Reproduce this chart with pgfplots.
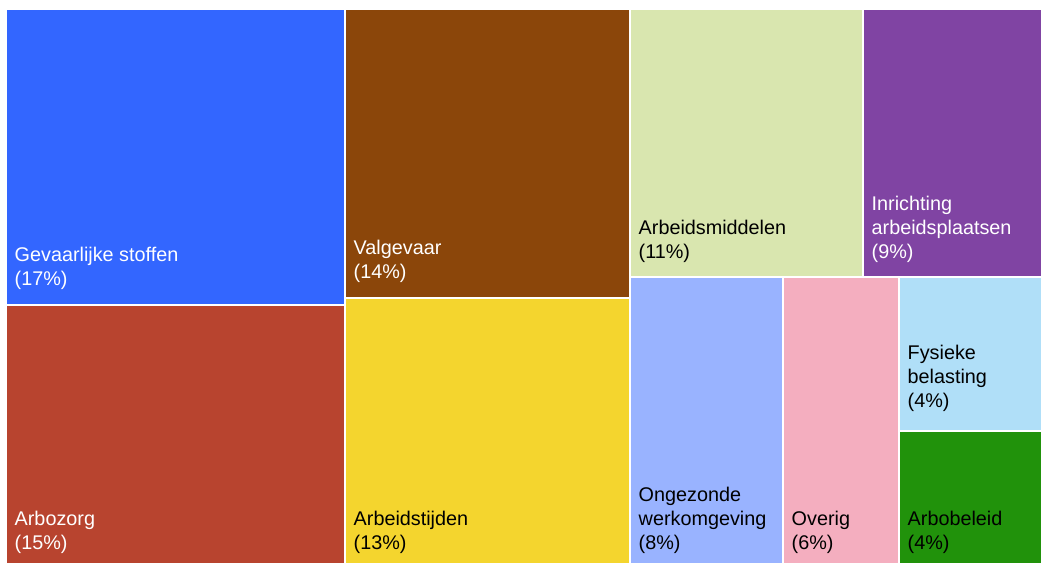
\documentclass[border=0pt]{standalone}
\usepackage{fontspec}
\setmainfont{Liberation Sans}
\usepackage{pgfplots}
\pgfplotsset{compat=1.18}
\definecolor{cBlue}{HTML}{3366FF}
\definecolor{cRed}{HTML}{B8442F}
\definecolor{cBrown}{HTML}{8B460A}
\definecolor{cYellow}{HTML}{F4D52E}
\definecolor{cLGreen}{HTML}{D9E6AF}
\definecolor{cPurple}{HTML}{8044A3}
\definecolor{cPeri}{HTML}{99B3FF}
\definecolor{cPink}{HTML}{F4AEBF}
\definecolor{cLBlue}{HTML}{B0DFF8}
\definecolor{cGreen}{HTML}{21920B}
\newcommand{\lab}[4]{% x, last baseline, color, {line1,line2,...}
  \foreach \t [count=\i] in {#4} {\xdef\nlines{\i}}%
  \foreach \t [count=\i] in {#4} {%
    \pgfmathsetmacro{\yy}{#2-24*(\nlines-\i)}%
    \edef\tmp{\noexpand\node[anchor=base west,inner sep=0pt,text=#3,font=\noexpand\fontsize{19.8}{24}\noexpand\selectfont] at (axis cs:#1+8,\yy) {\t};}%
    \tmp
  }%
}
\begin{document}
\begin{tikzpicture}
\begin{axis}[
  width=1041pt, height=562pt, scale only axis,
  xmin=0, xmax=1041, ymin=0, ymax=562,
  y dir=reverse, hide axis, clip=true,
]
% rectangles: corners in pixel units
\addplot[fill=cBlue, draw=none] coordinates {(6.5,10) (343.5,10) (343.5,303.5) (6.5,303.5)} -- cycle;
\addplot[fill=cRed, draw=none] coordinates {(6.5,305.5) (343.5,305.5) (343.5,570) (6.5,570)} -- cycle;
\addplot[fill=cBrown, draw=none] coordinates {(345.5,10) (628.5,10) (628.5,296.5) (345.5,296.5)} -- cycle;
\addplot[fill=cYellow, draw=none] coordinates {(345.5,298.5) (628.5,298.5) (628.5,570) (345.5,570)} -- cycle;
\addplot[fill=cLGreen, draw=none] coordinates {(630.5,10) (861.5,10) (861.5,276) (630.5,276)} -- cycle;
\addplot[fill=cPurple, draw=none] coordinates {(863.5,10) (1045,10) (1045,276) (863.5,276)} -- cycle;
\addplot[fill=cPeri, draw=none] coordinates {(630.5,278) (781.5,278) (781.5,570) (630.5,570)} -- cycle;
\addplot[fill=cPink, draw=none] coordinates {(783.5,278) (897.5,278) (897.5,570) (783.5,570)} -- cycle;
\addplot[fill=cLBlue, draw=none] coordinates {(899.5,278) (1045,278) (1045,429.5) (899.5,429.5)} -- cycle;
\addplot[fill=cGreen, draw=none] coordinates {(899.5,431.5) (1045,431.5) (1045,570) (899.5,570)} -- cycle;
\lab{6.5}{285.5}{white}{Gevaarlijke stoffen,(17\%)}
\lab{6.5}{549}{white}{Arbozorg,(15\%)}
\lab{345.5}{278}{white}{Valgevaar,(14\%)}
\lab{345.5}{549}{black}{Arbeidstijden,(13\%)}
\lab{630.5}{258}{black}{Arbeidsmiddelen,(11\%)}
\lab{863.5}{258}{white}{Inrichting,arbeidsplaatsen,(9\%)}
\lab{630.5}{549}{black}{Ongezonde,werkomgeving,(8\%)}
\lab{783.5}{549}{black}{Overig,(6\%)}
\lab{899.5}{407}{black}{Fysieke,belasting,(4\%)}
\lab{899.5}{549}{black}{Arbobeleid,(4\%)}
\end{axis}
\pgfresetboundingbox
\path (current axis.south west) rectangle (current axis.north east);
\end{tikzpicture}
\end{document}
